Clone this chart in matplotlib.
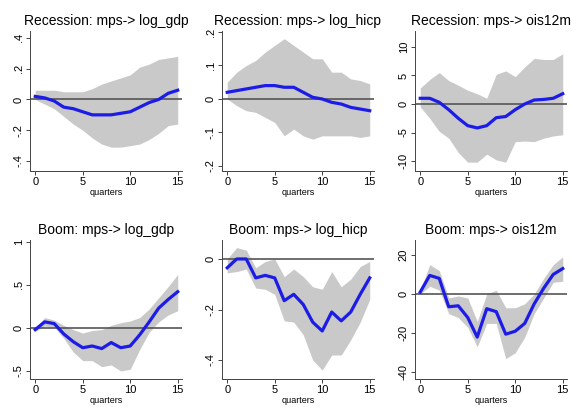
import numpy as np
import matplotlib.pyplot as plt

plt.rcParams['font.family'] = ['Liberation Sans', 'DejaVu Sans']

quarters = np.arange(16)

titles = [
    "Recession: mps-> log_gdp", "Recession: mps-> log_hicp", "Recession: mps-> ois12m",
    "Boom: mps-> log_gdp", "Boom: mps-> log_hicp", "Boom: mps-> ois12m",
]

# impulse responses (blue line)
rec_gdp = [0.02, 0.01, -0.01, -0.05, -0.06, -0.08, -0.10, -0.10, -0.10, -0.09, -0.08, -0.05, -0.02, 0.00, 0.04, 0.06]
rec_hicp = [0.02, 0.025, 0.03, 0.035, 0.04, 0.04, 0.035, 0.035, 0.02, 0.005, 0.0, -0.01, -0.015, -0.025, -0.03, -0.035]
rec_ois = [1.0, 1.0, 0.3, -1.0, -2.5, -3.8, -4.2, -3.8, -2.4, -2.2, -1.0, 0.0, 0.7, 0.8, 1.0, 1.8]
boom_gdp = [-0.02, 0.07, 0.05, -0.07, -0.16, -0.23, -0.21, -0.24, -0.17, -0.23, -0.21, -0.08, 0.07, 0.23, 0.33, 0.42]
boom_hicp = [-0.035, 0.0, 0.0, -0.075, -0.065, -0.075, -0.165, -0.14, -0.18, -0.25, -0.285, -0.21, -0.245, -0.21, -0.14, -0.075]
boom_ois = [1, 9.5, 8, -6.5, -6, -12, -22, -7.5, -9, -20.5, -19, -15, -5, 3, 10, 13]

# confidence bands
rec_gdp_hi = [0.06, 0.06, 0.06, 0.05, 0.05, 0.05, 0.07, 0.10, 0.12, 0.14, 0.16, 0.21, 0.23, 0.26, 0.27, 0.28]
rec_gdp_lo = [0.0, -0.03, -0.06, -0.11, -0.16, -0.20, -0.25, -0.29, -0.31, -0.31, -0.30, -0.29, -0.26, -0.22, -0.17, -0.16]
rec_hicp_hi = [0.05, 0.08, 0.10, 0.115, 0.14, 0.16, 0.18, 0.16, 0.14, 0.12, 0.12, 0.08, 0.08, 0.06, 0.055, 0.045]
rec_hicp_lo = [0.0, -0.02, -0.035, -0.04, -0.055, -0.07, -0.11, -0.09, -0.11, -0.12, -0.11, -0.11, -0.11, -0.11, -0.115, -0.11]
rec_ois_hi = [2.8, 4.3, 5.5, 4.1, 3.3, 2.4, 1.8, 1.0, 5.2, 5.8, 4.8, 6.5, 8.0, 7.8, 7.8, 8.8]
rec_ois_lo = [-0.5, -2.5, -4.8, -6.0, -8.5, -10.2, -10.2, -8.8, -9.8, -10.2, -6.6, -6.5, -6.6, -6.0, -5.6, -5.4]
boom_gdp_hi = [0.0, 0.12, 0.09, 0.03, -0.02, -0.06, -0.03, -0.02, 0.03, 0.06, 0.08, 0.12, 0.22, 0.35, 0.48, 0.62]
boom_gdp_lo = [-0.04, 0.02, 0.01, -0.12, -0.28, -0.38, -0.38, -0.45, -0.43, -0.50, -0.48, -0.25, -0.05, 0.07, 0.15, 0.20]
boom_hicp_hi = [0.0, 0.045, 0.035, -0.035, -0.01, 0.0, -0.07, -0.04, -0.07, -0.11, -0.12, -0.05, -0.11, -0.08, -0.03, -0.01]
boom_hicp_lo = [-0.055, -0.05, -0.04, -0.115, -0.12, -0.14, -0.245, -0.25, -0.30, -0.40, -0.44, -0.38, -0.38, -0.32, -0.25, -0.16]
boom_ois_hi = [2, 15, 12, -2, -1, -2, -14, 0, 2, -7, -7, -5, 0, 8, 15, 19]
boom_ois_lo = [0, 4, 2, -10, -12, -17, -27, -15, -15, -33, -30, -22, -10, -2, 6, 6.5]

irfs = [rec_gdp, rec_hicp, rec_ois, boom_gdp, boom_hicp, boom_ois]
his = [rec_gdp_hi, rec_hicp_hi, rec_ois_hi, boom_gdp_hi, boom_hicp_hi, boom_ois_hi]
los = [rec_gdp_lo, rec_hicp_lo, rec_ois_lo, boom_gdp_lo, boom_hicp_lo, boom_ois_lo]

yticks = [
    [-0.4, -0.2, 0, 0.2, 0.4],
    [-0.2, -0.1, 0, 0.1, 0.2],
    [-10, -5, 0, 5, 10],
    [-0.5, 0, 0.5, 1],
    [-0.4, -0.2, 0],
    [-40, -20, 0, 20],
]
ylims = [(-0.465, 0.445), (-0.215, 0.203), (-11.75, 12.8),
         (-0.593, 1.02), (-0.475, 0.075), (-43.4, 27.6)]


def stata_fmt(v):
    if v == 0:
        return "0"
    s = f"{v:g}"
    return s.replace("0.", ".")


W, H = 571, 407
fig = plt.figure(figsize=(W / 100, H / 100), dpi=100)
fig.patch.set_facecolor("white")

lefts = [30, 222, 415]
rows = [(31, 171), (240, 379)]
aw = 152

for i in range(6):
    r, c = divmod(i, 3)
    top, bot = rows[r]
    ax = fig.add_axes([lefts[c] / W, 1 - bot / H, aw / W, (bot - top) / H])
    ax.fill_between(quarters, los[i], his[i], color="#c9c9c9", linewidth=0, zorder=1)
    ax.axhline(0, color="#555555", linewidth=1.2, zorder=2)
    ax.plot(quarters, irfs[i], color="#1c1ce6", linewidth=2.3, zorder=3)
    ax.set_xlim(-0.55, 15.45)
    ax.set_ylim(*ylims[i])
    ax.set_xticks([0, 5, 10, 15])
    ax.set_yticks(yticks[i])
    ax.set_yticklabels([stata_fmt(v) for v in yticks[i]], rotation=90, va="center")
    ax.tick_params(labelsize=8, length=3, width=0.7, color="#444444", pad=1.5)
    for s in ["top", "right"]:
        ax.spines[s].set_visible(False)
    for s in ["left", "bottom"]:
        ax.spines[s].set_color("#444444")
        ax.spines[s].set_linewidth(0.7)
    ax.set_xlabel("quarters", fontsize=6.5, labelpad=0.5)
    ax.set_title(titles[i], fontsize=10, pad=4)

fig.savefig("out.png", dpi=100)
